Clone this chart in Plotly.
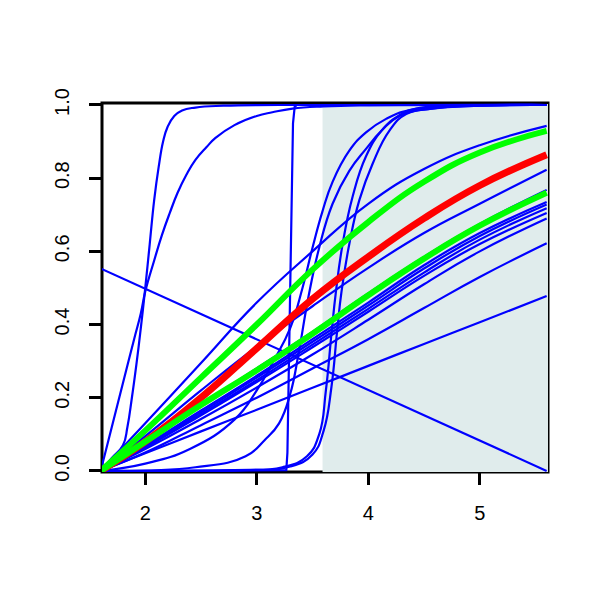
import plotly.graph_objects as go

# ---------------- data ----------------
x_grid = [1.6, 2.0, 2.5, 3.0, 3.5, 4.0, 4.5, 5.0, 5.6]

# near-linear / concave blue curves sampled on x_grid
blue_E   = [0, 0.13, 0.295, 0.46, 0.60, 0.73, 0.825, 0.89, 0.943]
blue_b1  = [0, 0.095, 0.22, 0.34, 0.45, 0.555, 0.65, 0.73, 0.823]
blue_b2  = [0, 0.082, 0.182, 0.28, 0.38, 0.485, 0.585, 0.675, 0.768]
blue_b3  = [0, 0.07, 0.165, 0.26, 0.36, 0.46, 0.562, 0.65, 0.735]
blue_b4  = [0, 0.068, 0.16, 0.255, 0.353, 0.452, 0.553, 0.642, 0.728]
blue_b5  = [0, 0.065, 0.155, 0.248, 0.345, 0.443, 0.542, 0.632, 0.718]
blue_b6  = [0, 0.064, 0.152, 0.243, 0.338, 0.435, 0.533, 0.62, 0.705]
blue_b7  = [0, 0.06, 0.142, 0.228, 0.318, 0.413, 0.51, 0.60, 0.69]
blue_L2  = [0, 0.05, 0.125, 0.20, 0.28, 0.36, 0.445, 0.53, 0.622]
blue_L1  = [0, 0.048, 0.108, 0.167, 0.227, 0.287, 0.347, 0.406, 0.478]

red_y    = [0, 0.08, 0.20, 0.335, 0.47, 0.585, 0.69, 0.78, 0.864]
green1_y = [0, 0.11, 0.255, 0.40, 0.55, 0.68, 0.79, 0.87, 0.929]
green2_y = [0, 0.08, 0.18, 0.275, 0.375, 0.48, 0.58, 0.67, 0.76]

# descending straight line
desc_x = [1.6, 5.6]
desc_y = [0.553, 0.0]

# steep curve near x = 2
b1_x = [1.6, 1.7, 1.8, 1.84, 1.88, 1.92, 1.96, 2.0, 2.04, 2.08, 2.12, 2.16, 2.2, 2.26, 2.33, 2.45, 2.7, 3.2, 5.6]
b1_y = [0, 0.035, 0.07, 0.12, 0.2, 0.29, 0.39, 0.5, 0.62, 0.74, 0.83, 0.9, 0.94, 0.97, 0.985, 0.993, 0.998, 1, 1]

# concave curve near x = 2
b2_x = [1.6, 1.7, 1.8, 1.9, 1.96, 2.0, 2.08, 2.15, 2.22, 2.29, 2.37, 2.45, 2.55, 2.63, 2.8, 3.0, 3.14, 3.32, 3.6, 4.0, 5.6]
b2_y = [0, 0.12, 0.24, 0.36, 0.43, 0.49, 0.575, 0.645, 0.705, 0.76, 0.81, 0.85, 0.885, 0.91, 0.945, 0.97, 0.98, 0.99, 0.996, 0.999, 1]

# near-vertical step at x ~ 3.3
c_x = [1.6, 3.0, 3.265, 3.275, 3.30, 3.325, 3.34, 3.36, 5.6]
c_y = [0, 0, 0.002, 0.05, 0.5, 0.95, 0.995, 1.0, 1.0]

# sigmoid curves around x ~ 3.5 - 3.8
d1_x = [1.6, 2.0, 2.4, 2.8, 3.0, 3.15, 3.3, 3.41, 3.5, 3.59, 3.68, 3.83, 3.98, 4.16, 4.37, 4.8, 5.6]
d1_y = [0, 0.02, 0.06, 0.14, 0.22, 0.30, 0.39, 0.5, 0.61, 0.71, 0.79, 0.875, 0.925, 0.962, 0.986, 0.997, 1.0]
d2_x = [1.6, 2.45, 2.9, 3.07, 3.2, 3.3, 3.38, 3.46, 3.56, 3.68, 3.83, 3.98, 4.12, 4.28, 4.57, 5.0, 5.6]
d2_y = [0, 0.01, 0.04, 0.084, 0.13, 0.21, 0.33, 0.47, 0.61, 0.73, 0.82, 0.88, 0.93, 0.97, 0.99, 0.998, 1]
d3_x = [1.6, 2.8, 3.23, 3.45, 3.56, 3.62, 3.67, 3.71, 3.77, 3.86, 3.98, 4.12, 4.28, 4.43, 4.8, 5.6]
d3_y = [0, 0.002, 0.01, 0.04, 0.10, 0.22, 0.375, 0.49, 0.62, 0.75, 0.86, 0.93, 0.972, 0.99, 0.998, 1]
d4_x = [1.6, 2.9, 3.3, 3.5, 3.6, 3.67, 3.72, 3.76, 3.83, 3.92, 4.04, 4.19, 4.34, 4.57, 5.0, 5.6]
d4_y = [0, 0.002, 0.012, 0.045, 0.11, 0.23, 0.38, 0.49, 0.62, 0.74, 0.84, 0.93, 0.975, 0.99, 0.998, 1]

shade_x = [3.59, 5.612]
x_ticks = [2, 3, 4, 5]
y_ticks = [0, 0.2, 0.4, 0.6, 0.8, 1.0]
y_tick_labels = ["0.0", "0.2", "0.4", "0.6", "0.8", "1.0"]

# ---------------- figure ----------------
BLUE, RED, GREEN = "#0000FF", "#FF0000", "#00FF00"
fig = go.Figure()

def add(x, y, color, width, shape="spline"):
    line = dict(color=color, width=width, shape=shape)
    if shape == "spline":
        line["smoothing"] = 1.3
    fig.add_trace(go.Scatter(x=x, y=y, mode="lines", hoverinfo="skip", line=line))

for ys in [blue_E, blue_b1, blue_b2, blue_b3, blue_b4, blue_b5, blue_b6, blue_b7, blue_L2, blue_L1]:
    add(x_grid, ys, BLUE, 2.2)
add(desc_x, desc_y, BLUE, 2.2, "linear")
add(b1_x, b1_y, BLUE, 2.2)
add(b2_x, b2_y, BLUE, 2.2)
add(c_x, c_y, BLUE, 2.2, "linear")
for xs, ys in [(d1_x, d1_y), (d2_x, d2_y), (d3_x, d3_y), (d4_x, d4_y)]:
    add(xs, ys, BLUE, 2.2)
add(x_grid, red_y, RED, 7)
add(x_grid, green1_y, GREEN, 6)
add(x_grid, green2_y, GREEN, 6)

font = dict(family="Liberation Sans, Arial, sans-serif", size=20, color="black")

shapes = [
    # plot frame
    dict(type="rect", xref="paper", yref="paper", x0=0, x1=1, y0=0, y1=1,
         line=dict(color="black", width=3), layer="below"),
    # shaded region
    dict(type="rect", xref="x", yref="y", x0=shade_x[0], x1=shade_x[1], y0=-0.004, y1=1.003,
         fillcolor="#E0ECEC", line=dict(width=0), layer="below"),
]

# page body has an 8px default margin, so margins are shifted by 8px
fig.update_layout(
    width=600, height=600,
    margin=dict(l=94, r=60, t=95, b=136),
    plot_bgcolor="white", paper_bgcolor="white",
    showlegend=False,
    shapes=shapes,
    font=font,
    xaxis=dict(range=[1.612, 5.612], tickvals=x_ticks, ticks="outside", ticklen=12,
               tickwidth=2.5, tickcolor="black", showgrid=False, zeroline=False,
               showline=False, tickfont=font, ticklabelstandoff=11),
    yaxis=dict(range=[-0.003, 1.0054], tickvals=y_ticks, ticktext=y_tick_labels,
               ticks="outside", ticklen=12, tickwidth=2.5, tickcolor="black",
               showgrid=False, zeroline=False, showline=False, tickangle=-90,
               tickfont=font, ticklabelstandoff=12),
)

fig.write_html("out.html")
